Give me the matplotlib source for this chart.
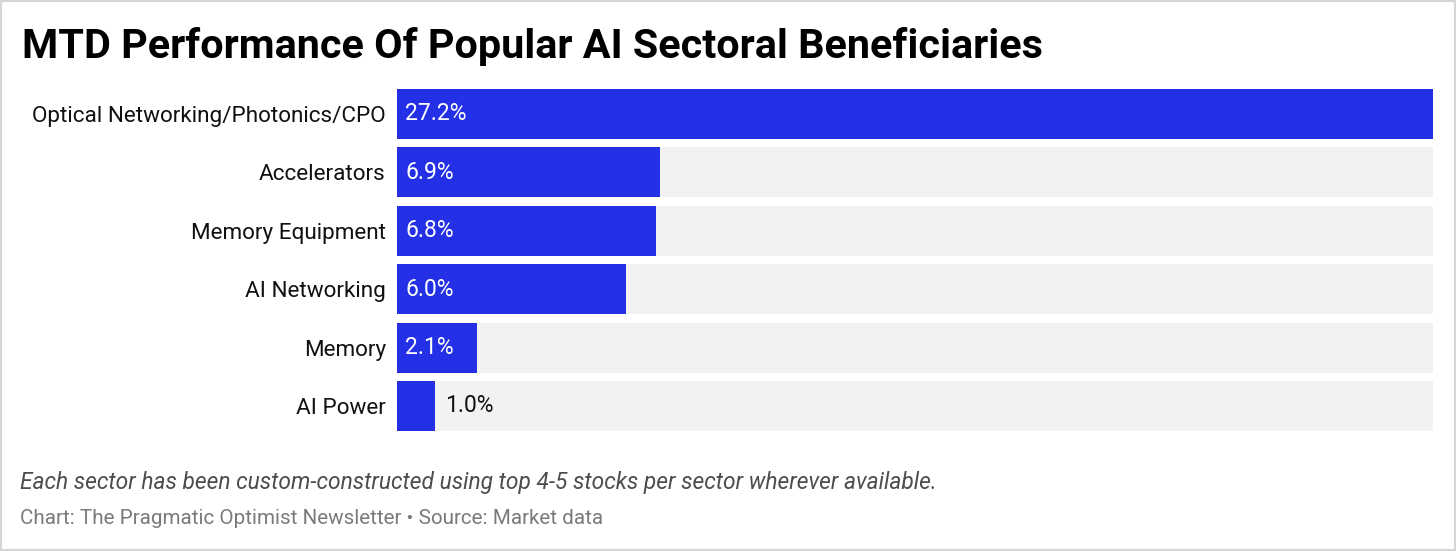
import matplotlib.pyplot as plt
from matplotlib.patches import Rectangle

plt.rcParams['font.family'] = ['Roboto', 'DejaVu Sans']

sectors = ['Optical Networking/Photonics/CPO', 'Accelerators', 'Memory Equipment',
           'AI Networking', 'Memory', 'AI Power']
mtd = [27.2, 6.9, 6.8, 6.0, 2.1, 1.0]

title = 'MTD Performance Of Popular AI Sectoral Beneficiaries'
note = 'Each sector has been custom-constructed using top 4-5 stocks per sector wherever available.'
credit = 'Chart: The Pragmatic Optimist Newsletter \u2022 Source: Market data'

W, H = 1456, 551
fig = plt.figure(figsize=(W / 100, H / 100), dpi=100)

# axes placed in pixel terms
left, right = 397, 1433
top, bottom = 84.8, 435.2
ax = fig.add_axes([left / W, 1 - bottom / H, (right - left) / W, (bottom - top) / H])

blue = '#2330e6'
ypos = list(range(len(sectors)))
vmax = max(mtd)
ax.barh(ypos, [vmax] * len(mtd), height=0.856, color='#f2f2f2', zorder=1)
ax.barh(ypos, mtd, height=0.856, color=blue, zorder=2)

ax.set_xlim(0, vmax)
ax.set_ylim(len(sectors) - 0.5, -0.5)

for y, v in zip(ypos, mtd):
    txt = f'{v:.1f}%'
    if v >= 2:
        ax.annotate(txt, (0, y), xytext=(6, 0), textcoords='offset points',
                    ha='left', va='center', color='white', fontsize=16.5, zorder=3)
    else:
        ax.annotate(txt, (v, y), xytext=(7, 0), textcoords='offset points',
                    ha='left', va='center', color='#111111', fontsize=16.5, zorder=3)

ax.set_yticks(ypos)
ax.set_yticklabels(sectors, fontsize=16.2, color='#111111')
ax.tick_params(axis='y', length=0, pad=8)
ax.set_xticks([])
for s in ax.spines.values():
    s.set_visible(False)

fig.text(22 / W, 1 - 47 / H, title, fontsize=29.8, fontweight='bold',
         ha='left', va='center', color='#000000')
fig.text(20 / W, 1 - 483 / H, note, fontsize=16.4, style='italic',
         ha='left', va='center', color='#4d4d4d')
fig.text(20 / W, 1 - 518 / H, credit, fontsize=14.9,
         ha='left', va='center', color='#7a7a7a')

fig.patches.append(Rectangle((0, 0), 1, 1, transform=fig.transFigure,
                             fill=False, edgecolor='#d6d6d6', linewidth=3))

fig.savefig('out.png', dpi=100)
